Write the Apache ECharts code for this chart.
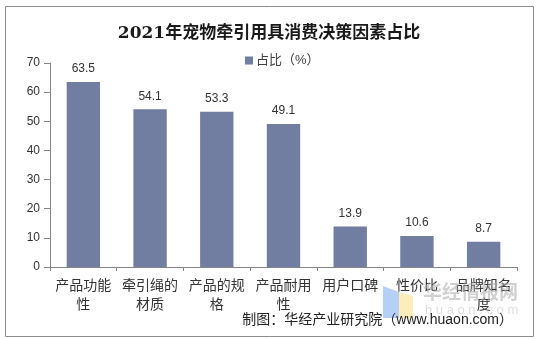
<!DOCTYPE html>
<html>
<head>
<meta charset="utf-8">
<script src="https://cdn.jsdelivr.net/npm/echarts@6/dist/echarts.min.js"></script>
<style>
html,body{margin:0;padding:0;background:#fff;}
#chart{width:538px;height:339px;}
</style>
</head>
<body>
<div id="chart"></div>
<script>
var titleText = '2021年宠物牵引用具消费决策因素占比';
var seriesName = '占比（%）';
var categories = ['产品功能性', '牵引绳的材质', '产品的规格', '产品耐用性', '用户口碑', '性价比', '品牌知名度'];
var values = [63.5, 54.1, 53.3, 49.1, 13.9, 10.6, 8.7];
var yTicks = [0, 10, 20, 30, 40, 50, 60, 70];
var footerText = '制图：华经产业研究院（www.huaon.com）';
var watermarkText = '华经情报网';
var watermarkSub = 'huaon.com';

var chart = echarts.init(document.getElementById('chart'), null, {renderer: 'canvas'});
var barColor = '#717da1';
var sans = '"Liberation Sans", Arial, "Noto Sans CJK SC", sans-serif';

function wrap4(s) {
  var out = [];
  for (var i = 0; i < s.length; i += 4) out.push(s.slice(i, i + 4));
  return out.join('\n');
}

chart.setOption({
  animation: false,
  backgroundColor: '#fff',
  title: {
    text: titleText,
    left: 'center',
    top: 20,
    textStyle: {
      fontFamily: '"DejaVu Serif", "Noto Sans CJK SC", serif',
      fontWeight: 'bold',
      fontSize: 17,
      color: '#1a1a1a'
    }
  },
  legend: {
    data: [seriesName],
    top: 49,
    left: 240,
    itemWidth: 8,
    itemHeight: 8,
    itemGap: 4,
    icon: 'rect',
    textStyle: {fontFamily: sans, fontSize: 13, color: '#404040', padding: [0, 0, 0, -2]}
  },
  grid: {left: 50, right: 21, top: 63, bottom: 72, containLabel: false},
  xAxis: {
    type: 'category',
    data: categories,
    axisLine: {lineStyle: {color: '#868686', width: 1}},
    axisTick: {show: true, length: 4, alignWithLabel: false, lineStyle: {color: '#868686'}},
    axisLabel: {
      interval: 0,
      margin: 10,
      fontFamily: sans,
      fontSize: 14,
      lineHeight: 19,
      color: '#333',
      formatter: function (v) { return wrap4(v); }
    }
  },
  yAxis: {
    type: 'value',
    min: 0,
    max: 70,
    interval: 10,
    axisLine: {show: true, lineStyle: {color: '#868686', width: 1}},
    axisTick: {show: true, length: 6, lineStyle: {color: '#868686'}},
    splitLine: {show: false},
    axisLabel: {
      margin: 10,
      fontFamily: sans,
      fontSize: 12,
      color: '#333',
      formatter: function (v) { return yTicks.indexOf(v) >= 0 ? String(v) : ''; }
    }
  },
  series: [{
    name: seriesName,
    type: 'bar',
    data: values,
    barWidth: '50%',
    itemStyle: {color: barColor},
    label: {
      show: true,
      position: 'top',
      distance: 7,
      fontFamily: sans,
      fontSize: 12,
      color: '#333',
      formatter: function (p) { return p.value.toFixed(1); }
    }
  }],
  graphic: [
    {
      type: 'rect', left: 3, top: 4, z: -1, silent: true,
      shape: {width: 528, height: 330},
      style: {fill: 'none', stroke: '#8c8c8c', lineWidth: 1}
    },
    {
      type: 'polygon', silent: true, z: 1,
      shape: {points: [[383, 286], [399, 292], [399, 318], [383, 318]]},
      style: {fill: 'rgba(120,170,240,0.55)'}
    },
    {
      type: 'polygon', silent: true, z: 1,
      shape: {points: [[399, 292], [413, 296], [413, 318], [399, 318]]},
      style: {fill: 'rgba(250,225,140,0.6)'}
    },
    {
      type: 'text', left: 423, top: 282, silent: true, z: 1,
      style: {text: watermarkText, font: 'bold 19px "Noto Sans CJK SC", sans-serif', fill: 'rgba(170,170,170,0.55)'}
    },
    {
      type: 'text', left: 425, top: 304, silent: true, z: 1,
      style: {text: watermarkSub.split('').join(' '), font: '13px "Liberation Sans", sans-serif', fill: 'rgba(180,180,180,0.45)'}
    },
    {
      type: 'text', right: 25, top: 313, silent: true, z: 5,
      style: {text: footerText, font: '14px "Liberation Sans", "Noto Sans CJK SC", sans-serif', fill: '#222'}
    }
  ]
});
</script>
</body>
</html>
